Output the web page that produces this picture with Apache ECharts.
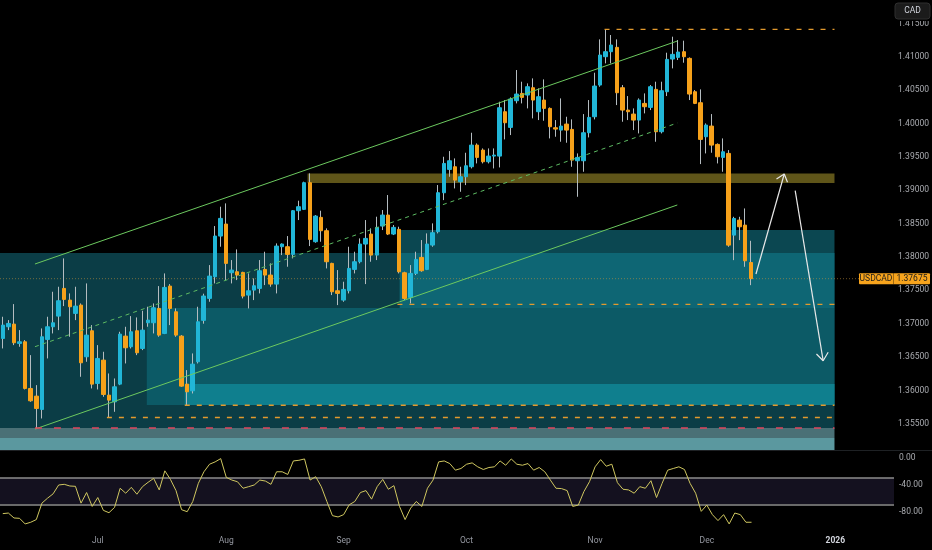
<!DOCTYPE html>
<html><head><meta charset="utf-8">
<script src="https://cdn.jsdelivr.net/npm/echarts@6/dist/echarts.min.js"></script>
<style>html,body{margin:0;padding:0;background:#000;}#c{width:932px;height:550px;}</style>
</head><body><div id="c"></div>
<script>
// ---- categories: weekday trading dates (last candle 2025-12-11, axis runs into Jan 2026)
const dates = (function(){const out=[];const d=new Date(Date.UTC(2025,5,6));while(out.length<160){const w=d.getUTCDay();if(w!==0&&w!==6)out.push(d.toISOString().slice(0,10));d.setUTCDate(d.getUTCDate()+1);}return out;})();
const monthNames = ['Jan','Feb','Mar','Apr','May','Jun','Jul','Aug','Sep','Oct','Nov','Dec'];

// ---- USDCAD daily OHLC
const open = [
1.36779,1.36954,1.36994,1.36704,1.36729,1.36029,1.35914,1.35714,1.36764,1.36954,
1.37114,1.37529,1.37354,1.37154,1.37279,1.36504,1.36894,1.36104,1.36454,1.35929,
1.35829,1.36094,1.36814,1.36654,1.36894,1.36629,1.37014,1.37014,1.37229,1.36854,
1.37564,1.37179,1.36814,1.36094,1.35994,1.36429,1.37050,1.37379,1.37704,1.38314,
1.38494,1.37764,1.37779,1.37769,1.37429,1.37504,1.37529,1.37814,1.37729,1.37594,
1.38154,1.38154,1.38039,1.38694,1.38714,1.39114,1.38229,1.38594,1.38394,1.37904,
1.37494,1.37354,1.37494,1.37814,1.37929,1.38194,1.38344,1.38029,1.38464,1.38629,
1.38344,1.38414,1.37764,1.37394,1.37754,1.37994,1.37814,1.38179,1.38379,1.38963,
1.39313,1.39353,1.39128,1.39203,1.39353,1.39678,1.39603,1.39428,1.39513,1.39513,
1.40178,1.39943,1.40343,1.40453,1.40428,1.40538,1.40178,1.40353,1.40228,1.39938,
1.39903,1.39993,1.39913,1.39443,1.39443,1.39863,1.40103,1.40578,1.41003,1.41078,
1.41143,1.40538,1.40203,1.40143,1.40053,1.40303,1.40243,1.40513,1.39878,1.40478,
1.40968,1.40993,1.41078,1.40978,1.40478,1.40313,1.39803,1.39963,1.39688,1.39493,
1.39553,1.38328,1.38553,1.38478,1.37918];
const close = [
1.36979,1.37004,1.36714,1.36729,1.36029,1.35844,1.35729,1.36804,1.36954,1.37014,
1.37344,1.37364,1.37254,1.37264,1.36414,1.36829,1.36094,1.36479,1.35939,1.35854,
1.36054,1.36844,1.36639,1.36879,1.36564,1.36904,1.37054,1.37239,1.36829,1.37544,
1.37229,1.36829,1.36064,1.35979,1.36394,1.37029,1.37415,1.37714,1.38314,1.38579,
1.37904,1.37804,1.37729,1.37414,1.37494,1.37569,1.37794,1.37729,1.37594,1.38164,
1.38194,1.38039,1.38694,1.38754,1.39114,1.38264,1.38614,1.38394,1.37929,1.37479,
1.37454,1.37514,1.37829,1.37929,1.38194,1.38279,1.38029,1.38444,1.38629,1.38344,
1.38444,1.37779,1.37379,1.37754,1.37964,1.37794,1.38194,1.38364,1.38964,1.39403,
1.39443,1.39153,1.39203,1.39368,1.39678,1.39493,1.39428,1.39513,1.39528,1.40238,
1.40013,1.40368,1.40443,1.40393,1.40553,1.40353,1.40403,1.40228,1.39953,1.39918,
1.39963,1.39903,1.39453,1.39493,1.39863,1.40093,1.40563,1.41028,1.41078,1.41178,
1.40463,1.40203,1.40178,1.40053,1.40353,1.40253,1.40553,1.39878,1.40493,1.40963,
1.41038,1.41073,1.41003,1.40443,1.40303,1.39763,1.39978,1.39678,1.39503,1.39578,
1.38178,1.38578,1.38453,1.37943,1.37675];
const low = [
1.36629,1.36904,1.36679,1.36654,1.36014,1.35829,1.35420,1.35579,1.36479,1.36854,
1.36904,1.37264,1.36804,1.37054,1.36204,1.36429,1.36029,1.36014,1.35904,1.35595,
1.35679,1.36079,1.36404,1.36629,1.36529,1.36604,1.36954,1.36854,1.36804,1.36844,
1.36979,1.36804,1.36054,1.35779,1.35954,1.36404,1.37000,1.37329,1.37604,1.38154,
1.37654,1.37604,1.37654,1.37379,1.37229,1.37354,1.37454,1.37579,1.37554,1.37454,
1.38029,1.37854,1.37979,1.38554,1.38704,1.38164,1.38214,1.38229,1.37829,1.37429,
1.37279,1.37329,1.37454,1.37754,1.37904,1.37594,1.37929,1.37954,1.38404,1.38329,
1.38329,1.37754,1.37354,1.37304,1.37729,1.37779,1.37804,1.38154,1.38354,1.38853,
1.39203,1.39028,1.38978,1.39078,1.39328,1.39403,1.39403,1.39403,1.39328,1.39343,
1.39763,1.39828,1.40303,1.40303,1.40228,1.40078,1.40053,1.40043,1.39778,1.39803,
1.39728,1.39713,1.39353,1.38903,1.39278,1.39793,1.40063,1.40553,1.40903,1.40903,
1.40278,1.40028,1.40053,1.39903,1.39853,1.40153,1.40203,1.39728,1.39853,1.40413,
1.40828,1.40953,1.40913,1.40353,1.40293,1.39393,1.39553,1.39563,1.39403,1.39278,
1.38153,1.37953,1.38253,1.37853,1.37578];
const high = [
1.37104,1.37054,1.37294,1.36904,1.36754,1.36529,1.36079,1.36929,1.37104,1.37479,
1.37554,1.37979,1.37454,1.37554,1.37304,1.37604,1.36979,1.36679,1.36579,1.36254,
1.36179,1.36879,1.36954,1.37114,1.37094,1.37194,1.37254,1.37304,1.37564,1.37754,
1.37594,1.37229,1.36829,1.36304,1.36554,1.37254,1.37450,1.37879,1.38464,1.38754,
1.38804,1.37954,1.38114,1.37779,1.37754,1.37679,1.37954,1.38079,1.37904,1.38204,
1.38204,1.38314,1.38704,1.38844,1.39129,1.39254,1.38629,1.38694,1.38429,1.37914,
1.37804,1.37629,1.38154,1.38079,1.38279,1.38554,1.38429,1.38604,1.38704,1.38929,
1.38479,1.38454,1.37779,1.37879,1.38079,1.38254,1.38354,1.38504,1.39079,1.39503,
1.39588,1.39478,1.39353,1.39563,1.39863,1.39703,1.39628,1.39628,1.39628,1.40328,
1.40353,1.40393,1.40803,1.40628,1.40603,1.40678,1.40528,1.40663,1.40243,1.40053,
1.40378,1.40103,1.40063,1.39553,1.40143,1.40353,1.40763,1.41263,1.41413,1.41328,
1.41263,1.40578,1.40413,1.40228,1.40378,1.40453,1.40578,1.40628,1.40628,1.41063,
1.41303,1.41253,1.41243,1.40993,1.40503,1.40513,1.40003,1.40143,1.39703,1.39778,
1.39603,1.38603,1.38603,1.38728,1.38243];

// ---- oscillator (lower pane)
const osc = [
-82.9,-82.0,-89.4,-89.9,-98.3,-95.8,-91.8,-67.2,-59.8,-53.3,
-40.0,-39.0,-41.5,-42.0,-67.2,-51.3,-72.1,-58.8,-78.0,-81.5,
-73.6,-44.9,-52.3,-43.5,-53.8,-42.5,-36.0,-30.1,-47.4,-18.8,
-31.6,-48.4,-77.0,-80.0,-64.7,-37.5,-20.2,-8.9,-5.4,-0.5,
-28.6,-32.6,-35.1,-44.9,-42.5,-40.0,-32.6,-34.1,-39.0,-20.2,
-20.2,-24.2,-4.0,-3.0,-1.0,-32.6,-27.6,-42.5,-64.7,-85.9,
-87.9,-84.4,-69.6,-64.7,-51.3,-48.4,-61.2,-42.5,-31.6,-46.4,
-41.0,-72.1,-91.8,-74.6,-64.7,-72.1,-44.9,-32.6,-5.4,-4.0,
-7.9,-17.8,-15.3,-8.9,-6.9,-12.8,-16.8,-13.8,-12.8,-4.0,
-10.4,-1.0,-8.9,-10.4,-7.9,-17.8,-13.8,-20.2,-32.6,-44.9,
-45.4,-48.4,-72.1,-70.1,-49.9,-35.1,-12.8,-2.0,-11.9,-8.9,
-36.5,-46.4,-47.4,-52.3,-42.5,-44.9,-33.6,-58.8,-37.5,-17.8,
-15.3,-12.8,-16.8,-37.5,-52.3,-79.5,-70.1,-84.4,-93.3,-84.4,
-98.3,-82.0,-84.4,-95.8,-95.8];
const oscBands = [-29.5, -69];

// ---- tick labels
const priceTicks = [1.355,1.36,1.365,1.37,1.375,1.38,1.385,1.39,1.395,1.40,1.405,1.41,1.415];
const oscTicks = [0,-40,-80];
const lastPrice = 1.37675;

// ---- drawn zones (x in bar-index units, y in price)
const zoneX1 = [-0.5, 71.1, 71.1, 25.8, 32.6, -0.5, -0.5, 54.6];
const zoneX2 = [149, 149, 149, 149, 149, 149, 149, 149];
const zoneLo = [1.35436, 1.38060, 1.37235, 1.35781, 1.35781, 1.35286, 1.35000, 1.39109];
const zoneHi = [1.38060, 1.38405, 1.38060, 1.37235, 1.36096, 1.35436, 1.35286, 1.39252];
const zoneColors = ['#0b3d46','#0b4751','#0e6674','#0c5a66','#0f7f8e','#4a7076','#5b989f','#5f5519'];

// ---- drawn lines (bar-index, price)
const channelUpper = [[5.76,1.37895],[120.84,1.41238]];
const channelMid   = [[5.76,1.36655],[120.84,1.40009]];
const channelLower = [[5.76,1.35420],[120.84,1.38780]];
const levelTop   = [[107.8,1.41413],[149,1.41413]];
const levelA     = [[70.7,1.37291],[149,1.37291]];
const levelB     = [[32.6,1.35777],[149,1.35777]];
const levelC     = [[18.65,1.35594],[149,1.35594]];
const levelRed   = [[5.76,1.35436],[149,1.35436]];
const priceLine  = [[-0.5,lastPrice],[159.5,lastPrice]];
const arrowUp    = [[134.93,1.37745],[140.0,1.39244]];
const arrowUpHead= [[138.61,1.39169],[140.0,1.39244],[140.58,1.39120]];
const arrowDn    = [[141.96,1.38994],[146.97,1.36445]];
const arrowDnHead= [[145.77,1.36546],[146.97,1.36445],[147.87,1.36571]];

const FONT = 'Roboto, "Liberation Sans", sans-serif';
const chart = echarts.init(document.getElementById('c'), null, {renderer:'canvas'});

const wickData = open.map((o,i)=>[o, close[i], low[i], high[i]]);
const bodyData = open.map((o,i)=>[o, close[i], Math.min(o,close[i]), Math.max(o,close[i])]);
const zoneData = zoneX1.map((x,i)=>[x, zoneX2[i], zoneLo[i], zoneHi[i]]);

function seg(data, color, width, type, z){
  return {type:'line', xAxisIndex:1, yAxisIndex:0, data:data, symbol:'none', silent:true, z:z||6,
    lineStyle:{color:color, width:width, type:type||'solid'}, animation:false};
}

function isMonthStart(i){ return i>0 && dates[i].slice(5,7)!==dates[i-1].slice(5,7); }

const option = {
  backgroundColor:'#000',
  animation:false,
  grid:[
    {left:0, top:0, width:894, height:450},
    {left:0, top:450, width:894, height:80}
  ],
  xAxis:[
    {type:'category', gridIndex:0, data:dates, show:false, boundaryGap:true},
    {type:'value', gridIndex:0, min:-0.5, max:159.5, show:false},
    {type:'category', gridIndex:1, data:dates, boundaryGap:true,
      axisLine:{show:false}, axisTick:{show:false}, splitLine:{show:false},
      axisLabel:{interval:(i)=>isMonthStart(i), margin:6, color:'#9598a1', fontSize:8.5, fontFamily:FONT, hideOverlap:false,
        formatter:(v)=>{const m=+v.slice(5,7); return m===1 ? '{y|'+v.slice(0,4)+'}' : monthNames[m-1];},
        rich:{y:{fontWeight:'bold', color:'#d1d4dc', fontSize:8.5, fontFamily:FONT}}}}
  ],
  yAxis:[
    {type:'value', gridIndex:0, position:'right', min:1.351064, max:1.418532,
      splitLine:{show:false}, axisLine:{show:false}, axisTick:{show:false},
      axisLabel:{customValues:priceTicks, formatter:(v)=>v.toFixed(5), color:'#a9abb0', fontSize:8.5, fontFamily:FONT, margin:5}},
    {type:'value', gridIndex:1, position:'right', min:-107.4, max:12.4,
      splitLine:{show:false}, axisLine:{show:false}, axisTick:{show:false},
      axisLabel:{customValues:oscTicks, formatter:(v)=>v.toFixed(2), color:'#a9abb0', fontSize:8.5, fontFamily:FONT, margin:5}}
  ],
  series:[
    {type:'custom', xAxisIndex:1, yAxisIndex:0, data:zoneData, z:1, silent:true, clip:true,
      renderItem:(params, api)=>{
        const p1 = api.coord([api.value(0), api.value(3)]);
        const p2 = api.coord([api.value(1), api.value(2)]);
        return {type:'rect', shape:{x:p1[0], y:p1[1], width:p2[0]-p1[0], height:p2[1]-p1[1]},
          style:{fill:zoneColors[params.dataIndex]}};
      }},
    seg(priceLine, 'rgba(200,150,60,0.55)', 1, [1,2], 2),
    {type:'candlestick', xAxisIndex:0, yAxisIndex:0, data:wickData, barWidth:1, z:3, silent:true,
      itemStyle:{color:'#b4bcc0', color0:'#b4bcc0', borderColor:'#b4bcc0', borderColor0:'#b4bcc0', borderWidth:1}},
    {type:'candlestick', xAxisIndex:0, yAxisIndex:0, data:bodyData, barWidth:4, z:4, silent:true,
      itemStyle:{color:'#21b6d7', color0:'#f6a11a', borderColor:'#21b6d7', borderColor0:'#f6a11a', borderWidth:1}},
    seg(channelUpper, '#6cc95f', 1),
    seg(channelMid, '#5dbb63', 1, [4,4]),
    seg(channelLower, '#6cc95f', 1),
    seg(levelTop, '#e39a2d', 1.3, [5,7]),
    seg(levelA, '#e39a2d', 1.3, [5,7]),
    seg(levelB, '#e39a2d', 1.3, [5,7]),
    seg(levelC, '#e39a2d', 1.3, [5,7]),
    seg(levelRed, '#e0455d', 1.6, [7,12]),
    seg(arrowUp, '#e8e8e8', 1.2, 'solid', 7),
    seg(arrowUpHead, '#e8e8e8', 1.2, 'solid', 7),
    seg(arrowDn, '#e8e8e8', 1.2, 'solid', 7),
    seg(arrowDnHead, '#e8e8e8', 1.2, 'solid', 7),
    {type:'line', xAxisIndex:2, yAxisIndex:1, data:osc, symbol:'none', silent:true, z:5,
      lineStyle:{color:'#cfc760', width:1},
      markArea:{silent:true, itemStyle:{color:'#14111f'}, data:[[{yAxis:oscBands[0]},{yAxis:oscBands[1]}]]},
      markLine:{silent:true, symbol:'none', label:{show:false}, lineStyle:{color:'#8c8c8c', width:1.5, type:'solid'},
        data:[{yAxis:oscBands[0]},{yAxis:oscBands[1]}]}}
  ]
};
chart.setOption(option);

// price tag + currency box
const ty = chart.convertToPixel({yAxisIndex:0}, lastPrice);
chart.setOption({graphic:[
  {type:'line', shape:{x1:0, y1:450.5, x2:932, y2:450.5}, style:{stroke:'#1e2124', lineWidth:1}, z:50},
  {type:'rect', shape:{x:894, y:0, width:38, height:21}, style:{fill:'#000'}, z:60},
  {type:'rect', shape:{x:895, y:3, width:35, height:16, r:3}, style:{fill:'#1b1b1b', stroke:'#2f2f2f', lineWidth:1}, z:61},
  {type:'text', x:912.5, y:11, style:{text:'CAD', fill:'#d1d4dc', font:'8.5px '+FONT, align:'center', verticalAlign:'middle'}, z:62},
  {type:'rect', shape:{x:859, y:ty-5.5, width:71, height:11, r:1}, style:{fill:'#f7a41d'}, z:60},
  {type:'line', shape:{x1:893.5, y1:ty-5.5, x2:893.5, y2:ty+5.5}, style:{stroke:'rgba(0,0,0,0.35)', lineWidth:1}, z:61},
  {type:'text', x:876, y:ty, style:{text:'USDCAD', fill:'#1c1c1c', font:'8.5px '+FONT, align:'center', verticalAlign:'middle'}, z:62},
  {type:'text', x:912, y:ty, style:{text:lastPrice.toFixed(5), fill:'#1c1c1c', font:'8.5px '+FONT, align:'center', verticalAlign:'middle'}, z:62}
]});
</script>
</body></html>
